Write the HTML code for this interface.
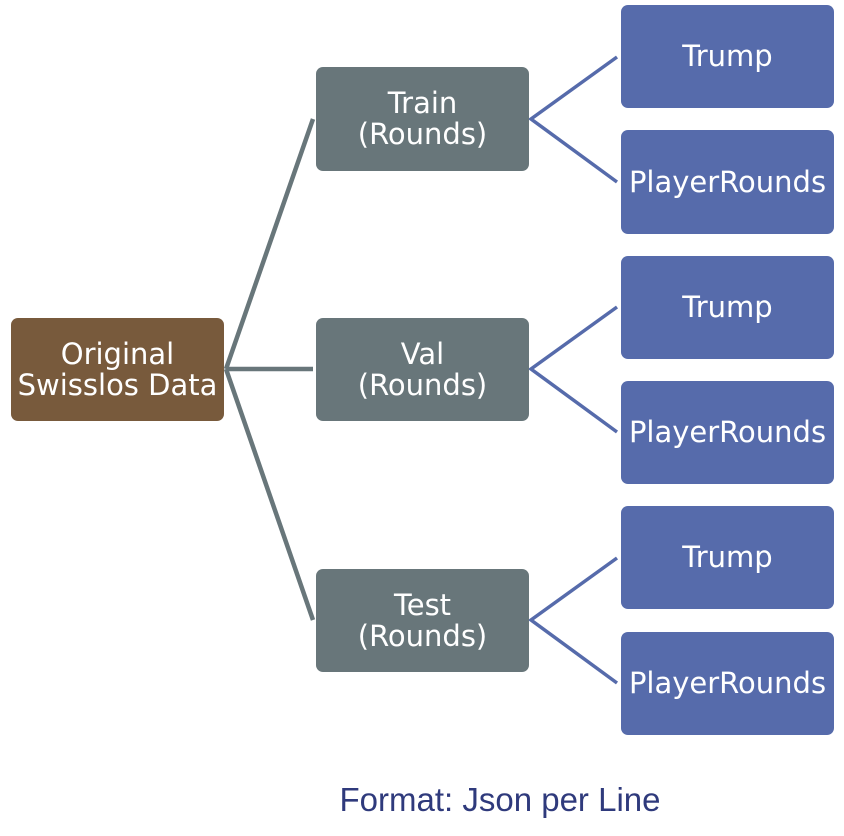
<!DOCTYPE html>
<html><head><meta charset="utf-8"><style>
html,body{margin:0;padding:0;background:#fff;width:844px;height:836px;overflow:hidden}
.b{position:absolute;border-radius:7px;color:#fff;font-family:"DejaVu Sans","Liberation Sans",sans-serif;font-size:29px;line-height:31px;display:flex;align-items:center;justify-content:center;text-align:center}
.r{background:#785a3c}
.m{background:#68767a}
.l{background:#566bab;font-size:29px}
.cap{position:absolute;left:0;width:1000px;top:781px;text-align:center;font-family:"Liberation Sans",sans-serif;font-size:33px;color:#2f3a7c}
</style></head><body>
<svg width="844" height="836" style="position:absolute;left:0;top:0">
<g stroke="#68767a" stroke-width="4.5" fill="none">
<line x1="226" y1="369" x2="313" y2="119"/>
<line x1="226" y1="369" x2="313" y2="369"/>
<line x1="226" y1="369" x2="313" y2="620"/>
</g>
<g stroke="#566bab" stroke-width="3.5" fill="none">
<polyline points="617,57 531,119 617,182"/>
<polyline points="617,307 531,369 617,432"/>
<polyline points="617,558 531,620 617,683"/>
</g>
</svg>
<div class="b r" style="left:11px;top:318px;width:213px;height:103px">Original<br>Swisslos Data</div>
<div class="b m" style="left:316px;top:67px;width:213px;height:104px">Train<br>(Rounds)</div>
<div class="b m" style="left:316px;top:318px;width:213px;height:103px">Val<br>(Rounds)</div>
<div class="b m" style="left:316px;top:569px;width:213px;height:103px">Test<br>(Rounds)</div>
<div class="b l" style="left:621px;top:5px;width:213px;height:103px">Trump</div>
<div class="b l" style="left:621px;top:130px;width:213px;height:104px">PlayerRounds</div>
<div class="b l" style="left:621px;top:256px;width:213px;height:103px">Trump</div>
<div class="b l" style="left:621px;top:381px;width:213px;height:103px">PlayerRounds</div>
<div class="b l" style="left:621px;top:506px;width:213px;height:103px">Trump</div>
<div class="b l" style="left:621px;top:632px;width:213px;height:103px">PlayerRounds</div>
<div class="cap">Format: Json per Line</div>
</body></html>
